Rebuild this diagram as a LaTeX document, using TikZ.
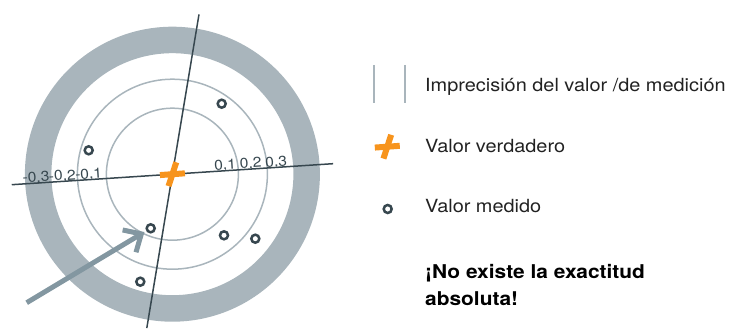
\documentclass[tikz,border=0pt]{standalone}
\usepackage{fontspec}
\setmainfont{TeX Gyre Heros}[FakeStretch=1.1]
\usetikzlibrary{arrows.meta,calc}

\definecolor{ringgray}{HTML}{A9B5BC}
\definecolor{axisdark}{HTML}{37474F}
\definecolor{crossorange}{HTML}{F7941D}
\definecolor{arrowgray}{HTML}{8397A1}
\definecolor{textdark}{HTML}{222222}

\begin{document}
\begin{tikzpicture}[x=1pt,y=1pt,
        thinring/.style={ringgray, line width=1.5pt},
        axisline/.style={axisdark, line width=1.5pt},
        crossarm/.style={crossorange, line width=6pt},
        measured/.style={circle, draw=axisdark, line width=2.5pt, minimum size=8pt, inner sep=0pt},
        ticklabel/.style={anchor=base, rotate=3.74, text=axisdark, inner sep=0pt, font=\fontsize{14.2}{17}\selectfont},
        legendtext/.style={anchor=base west, text=textdark, inner sep=0pt, font=\fontsize{18.1}{22}\selectfont},
        notetext/.style={anchor=base west, text=black, inner sep=0pt, font=\fontsize{19}{24}\selectfont\bfseries}]
        \useasboundingbox (0,0) rectangle (729,329);

        % Draw the target rings
        \coordinate (c) at (172.4,154.8);
        \draw[ringgray, line width=26.5pt] (c) circle (134.25);
        \draw[thinring] (c) circle (95);
        \draw[thinring] (c) circle (66);

        % Draw the axes
        \coordinate (hleft) at ($(c)+(183.74:161)$);
        \coordinate (hright) at ($(c)+(3.74:161)$);
        \coordinate (vtop) at ($(c)+(80.55:162)$);
        \coordinate (vbottom) at ($(c)+(260.55:156)$);
        \draw[axisline] (hleft) -- (hright);
        \draw[axisline] (vbottom) -- (vtop);
        \foreach \i/\d in {1/53.1, 2/78.8, 3/104.4}
            \node[ticklabel] (pos\i) at ($(c)+(3.74:\d)+(0,1)$) {0,\i};
        \foreach \i/\d in {1/83.6, 2/110, 3/136.4}
            \node[ticklabel] (neg\i) at ($(c)+(183.74:\d)+(0,1)$) {-0,\i};

        % Draw the measured values
        \foreach \i/\x/\y in {1/221.7/225.3, 2/88.7/178.7, 3/150.7/100.7, 4/224/93.7, 5/255.3/90.3, 6/140.3/47.3}
            \node[measured] (m\i) at (\x,\y) {};

        % Draw the legend
        \coordinate (legcross) at (387.3,182.3);
        \draw[thinring, line width=2pt] (374,264) -- (374,226.3);
        \draw[thinring, line width=2pt] (405,264) -- (405,226.3);
        \node[measured] (legpoint) at (387.7,120) {};
        \node[legendtext] (impr) at (425,237.3) {Imprecisión del valor /de medición};
        \node[legendtext] (verd) at (425,176.3) {Valor verdadero};
        \node[legendtext] (med) at (425,116.7) {Valor medido};
        \node[notetext] (nota) at (425,50.7) {¡No existe la exactitud};
        \node[notetext] (notb) at (425,23) {absoluta!};

        % Draw the true value crosses
        \foreach \p in {c, legcross} {
            \draw[crossarm] ($(\p)+(184:12.5)$) -- ($(\p)+(4:12.5)$);
            \draw[crossarm] ($(\p)+(252:12.5)$) -- ($(\p)+(72:12.5)$);
        }

        % Draw the arrow
        \coordinate (arrowstart) at (26.7,26.3);
        \draw[arrowgray, line width=5pt, -{Straight Barb[length=14pt, width=26pt]}, shorten >=2pt] (arrowstart) -- (m3);
    \end{tikzpicture}
\end{document}
